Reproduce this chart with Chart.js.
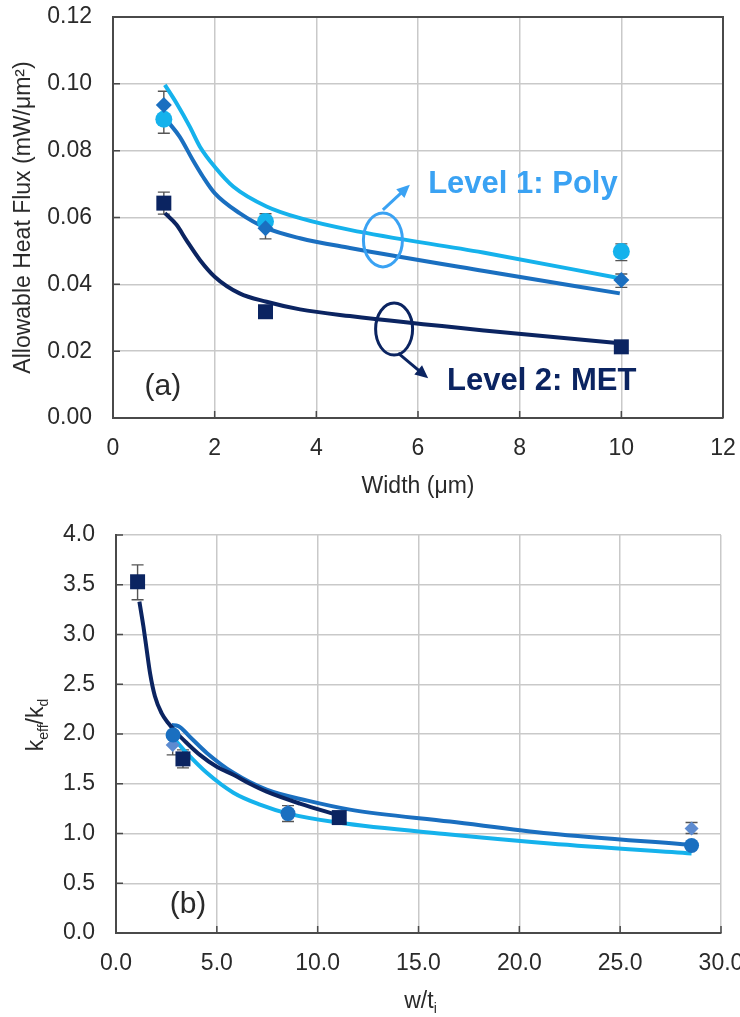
<!DOCTYPE html>
<html>
<head>
<meta charset="utf-8">
<script src="https://cdn.jsdelivr.net/npm/chart.js@4.4.1/dist/chart.umd.min.js"></script>
<style>
  html, body { margin: 0; padding: 0; background: #fff; }
  body { width: 740px; height: 1017px; overflow: hidden; position: relative; }
  #boxA { position: absolute; left: 0; top: 0; width: 740px; height: 505px; }
  #boxB { position: absolute; left: 0; top: 505px; width: 760px; height: 512px; }
</style>
</head>
<body>
<div id="boxA"><canvas id="chartA" width="740" height="505"></canvas></div>
<div id="boxB"><canvas id="chartB" width="760" height="512"></canvas></div>
<script>
// ---- (a) allowable heat flux vs line width ----
const widthUm = [1, 3, 10];
const polyCircle = [0.0894, 0.0588, 0.0498];
const polyDiamond = [0.0937, 0.0568, 0.0413];
const metSquare = [0.0643, 0.0318, 0.0213];

// smooth fit curves
const polyFitAx = [1.02, 1.25, 1.51, 1.71, 2.0, 2.37, 3.02, 3.68, 4.66, 7.28, 9.97];
const polyFitAy = [0.0997, 0.0942, 0.0872, 0.0812, 0.0752, 0.0692, 0.0633, 0.0598, 0.0563, 0.0495, 0.0418];
const polyFitBx = [1.08, 1.31, 1.57, 1.77, 2.0, 2.49, 3.02, 3.68, 4.66, 7.3, 9.97];
const polyFitBy = [0.0887, 0.0842, 0.0772, 0.0722, 0.0673, 0.0613, 0.0568, 0.0538, 0.0509, 0.0440, 0.0373];
const metFitX = [1.02, 1.25, 1.44, 1.71, 2.0, 2.49, 3.02, 3.68, 4.66, 7.3, 9.97];
const metFitY = [0.0613, 0.0578, 0.0533, 0.0473, 0.0423, 0.0373, 0.0348, 0.0325, 0.0305, 0.0262, 0.0224];

// error bars
const errAx = [1, 1, 3, 10, 10];
const errAlo = [0.0852, 0.0610, 0.0536, 0.0471, 0.0391];
const errAhi = [0.0978, 0.0676, 0.0611, 0.0521, 0.0431];

// ---- (b) k_eff/k_d vs w/t_i ----
const sqX = [1.07, 3.32, 11.07];
const sqY = [3.53, 1.75, 1.16];
const circX = [2.83, 8.53, 28.54];
const circY = [1.99, 1.20, 0.88];
const diaX = [2.81, 8.53, 28.54];
const diaY = [1.89, 1.22, 1.05];

const navyFitX = [1.16, 1.36, 1.52, 1.69, 1.93, 2.26, 2.59, 3.01, 3.51, 4.16, 5.0, 5.82, 6.64, 7.47, 9.12, 11.07];
const navyFitY = [3.33, 3.08, 2.85, 2.61, 2.38, 2.21, 2.11, 2.01, 1.91, 1.79, 1.67, 1.59, 1.50, 1.42, 1.30, 1.18];
const blueFitX = [2.76, 3.09, 3.67, 4.5, 5.82, 7.47, 9.5, 11.6, 16.56, 21.5, 28.54];
const blueFitY = [2.09, 2.08, 1.97, 1.81, 1.61, 1.44, 1.33, 1.24, 1.12, 1.00, 0.885];
const cyanFitX = [2.93, 3.5, 4.5, 5.82, 7.14, 8.54, 11.0, 16.56, 21.5, 28.54];
const cyanFitY = [1.94, 1.81, 1.61, 1.41, 1.29, 1.20, 1.11, 0.99, 0.90, 0.80];

const errBx = [1.07, 2.81, 3.32, 8.53, 28.54];
const errBlo = [3.35, 1.79, 1.66, 1.12, 1.00];
const errBhi = [3.70, 1.99, 1.84, 1.28, 1.11];

const FONT = "'Liberation Sans', Arial, Helvetica, sans-serif";
const CYAN = '#15b2ec';
const BLUE = '#1a6fc0';
const NAVY = '#0b2461';
const STEEL = '#5d8bd0';
const GRID = '#c9c9c9';
const AXIS = '#4a4a4a';
const TEXT = '#2a2a2a';

const pts = (xs, ys) => xs.map((x, i) => ({x: x, y: ys[i]}));

function markers(label, xs, ys, style, color, r) {
  return { label: label, data: pts(xs, ys), showLine: false, pointStyle: style,
    pointRadius: r, pointBackgroundColor: color, pointBorderColor: color, pointBorderWidth: 0 };
}
function fit(label, xs, ys, color) {
  return { label: label, data: pts(xs, ys), showLine: true, pointRadius: 0,
    borderColor: color, borderWidth: 4, cubicInterpolationMode: 'monotone', fill: false };
}

const errorBars = {
  id: 'errorBars',
  beforeDatasetsDraw(chart, args, opts) {
    const {ctx, scales: {x, y}} = chart;
    ctx.save();
    ctx.strokeStyle = '#555';
    ctx.lineWidth = 1.4;
    ctx.beginPath();
    opts.x.forEach((xv, i) => {
      const px = x.getPixelForValue(xv);
      const lo = y.getPixelForValue(opts.lo[i]);
      const hi = y.getPixelForValue(opts.hi[i]);
      ctx.moveTo(px, lo); ctx.lineTo(px, hi);
      ctx.moveTo(px - 6, lo); ctx.lineTo(px + 6, lo);
      ctx.moveTo(px - 6, hi); ctx.lineTo(px + 6, hi);
    });
    ctx.stroke();
    ctx.restore();
  }
};

// inner tick marks, plus a closed box when asked
const frame = {
  id: 'frame',
  beforeDatasetsDraw(chart, args, opts) {
    const {ctx, chartArea: a, scales: {x, y}} = chart;
    ctx.save();
    ctx.strokeStyle = AXIS;
    ctx.lineWidth = 1.5;
    ctx.beginPath();
    x.ticks.forEach(t => {
      const px = x.getPixelForValue(t.value);
      ctx.moveTo(px, a.bottom); ctx.lineTo(px, a.bottom - 7);
    });
    y.ticks.forEach(t => {
      const py = y.getPixelForValue(t.value);
      ctx.moveTo(a.left, py); ctx.lineTo(a.left + 7, py);
    });
    ctx.stroke();
    if (opts.box) {
      ctx.lineWidth = 2;
      ctx.beginPath();
      ctx.moveTo(a.left, a.top); ctx.lineTo(a.right, a.top); ctx.lineTo(a.right, a.bottom);
      ctx.stroke();
    }
    ctx.restore();
  }
};

function arrow(ctx, x0, y0, x1, y1, color) {
  const ang = Math.atan2(y1 - y0, x1 - x0);
  const len = 13, half = 6;
  ctx.strokeStyle = color;
  ctx.fillStyle = color;
  ctx.lineWidth = 3;
  ctx.beginPath();
  ctx.moveTo(x0, y0);
  ctx.lineTo(x1 - Math.cos(ang) * len * 0.8, y1 - Math.sin(ang) * len * 0.8);
  ctx.stroke();
  ctx.beginPath();
  ctx.moveTo(x1, y1);
  ctx.lineTo(x1 - Math.cos(ang) * len - Math.sin(ang) * half, y1 - Math.sin(ang) * len + Math.cos(ang) * half);
  ctx.lineTo(x1 - Math.cos(ang) * len + Math.sin(ang) * half, y1 - Math.sin(ang) * len - Math.cos(ang) * half);
  ctx.closePath();
  ctx.fill();
}

const calloutsA = {
  id: 'calloutsA',
  afterDatasetsDraw(chart) {
    const {ctx, scales: {x, y}} = chart;
    const X = v => x.getPixelForValue(v), Y = v => y.getPixelForValue(v);
    ctx.save();
    // Level 1 group
    ctx.strokeStyle = '#3aa2f3';
    ctx.lineWidth = 3;
    ctx.beginPath();
    ctx.ellipse(X(5.31), Y(0.0533), 19.5, 27, 0, 0, Math.PI * 2);
    ctx.stroke();
    arrow(ctx, X(5.31), Y(0.0623), X(5.84), Y(0.0698), '#3aa2f3');
    ctx.font = 'bold 31px ' + FONT;
    ctx.textAlign = 'left';
    ctx.textBaseline = 'alphabetic';
    ctx.fillStyle = '#3aa2f3';
    ctx.fillText('Level 1: Poly', X(6.2), Y(0.0674));
    // Level 2 group
    ctx.strokeStyle = NAVY;
    ctx.lineWidth = 3;
    ctx.beginPath();
    ctx.ellipse(X(5.53), Y(0.0266), 18.5, 26, 0, 0, Math.PI * 2);
    ctx.stroke();
    arrow(ctx, X(5.61), Y(0.0194), X(6.2), Y(0.0119), NAVY);
    ctx.fillStyle = NAVY;
    ctx.fillText('Level 2: MET', X(6.57), Y(0.0084));
    // panel tag
    ctx.font = '30px ' + FONT;
    ctx.fillStyle = TEXT;
    ctx.textAlign = 'center';
    ctx.textBaseline = 'middle';
    ctx.fillText('(a)', X(0.98), Y(0.0093));
    ctx.restore();
  }
};

// text with subscripts: parts = [[text, isSub], ...], centred on the origin, origin on the baseline
function richText(ctx, parts, size) {
  const big = size + 'px ' + FONT, small = Math.round(size * 0.62) + 'px ' + FONT;
  let w = 0;
  parts.forEach(p => { ctx.font = p[1] ? small : big; w += ctx.measureText(p[0]).width; });
  let cx = -w / 2;
  ctx.textAlign = 'left';
  ctx.textBaseline = 'alphabetic';
  parts.forEach(p => {
    ctx.font = p[1] ? small : big;
    ctx.fillText(p[0], cx, p[1] ? size * 0.22 : 0);
    cx += ctx.measureText(p[0]).width;
  });
}

const labelsB = {
  id: 'labelsB',
  afterDraw(chart) {
    const {ctx, chartArea: a, scales: {x, y}} = chart;
    ctx.save();
    ctx.fillStyle = TEXT;
    // y title
    ctx.save();
    ctx.translate(43, (a.top + a.bottom) / 2 - 9);
    ctx.rotate(-Math.PI / 2);
    richText(ctx, [['k', false], ['eff', true], ['/k', false], ['d', true]], 23);
    ctx.restore();
    // x title
    ctx.save();
    ctx.translate((a.left + a.right) / 2 + 2, a.bottom + 75);
    richText(ctx, [['w/t', false], ['i', true]], 23);
    ctx.restore();
    // panel tag
    ctx.font = '30px ' + FONT;
    ctx.textAlign = 'center';
    ctx.textBaseline = 'middle';
    ctx.fillText('(b)', x.getPixelForValue(3.57), y.getPixelForValue(0.28));
    ctx.restore();
  }
};

// label offset comes from an invisible tick mark so it does not widen the layout padding
function axis(min, max, step, digits, gap, extra) {
  return Object.assign({
    type: 'linear', min: min, max: max,
    ticks: { stepSize: step, color: TEXT, padding: 3, font: { family: FONT, size: 23 },
      callback: v => Number(v).toFixed(digits) },
    grid: { color: GRID, lineWidth: 1.5, drawTicks: true, tickLength: gap, tickColor: 'rgba(0,0,0,0)' },
    border: { color: AXIS, width: 2 }
  }, extra);
}

Chart.defaults.font.family = FONT;

new Chart(document.getElementById('chartA'), {
  type: 'scatter',
  data: {
    datasets: [
      markers('MET', widthUm, metSquare, 'rect', NAVY, 10.6),
      markers('Poly B', widthUm, polyDiamond, 'rectRot', BLUE, 8),
      markers('Poly A', widthUm, polyCircle, 'circle', CYAN, 8.5),
      fit('MET fit', metFitX, metFitY, NAVY),
      fit('Poly B fit', polyFitBx, polyFitBy, BLUE),
      fit('Poly A fit', polyFitAx, polyFitAy, CYAN)
    ]
  },
  options: {
    responsive: false,
    devicePixelRatio: 1,
    animation: false,
    layout: { padding: { left: 0, right: 17, top: 17, bottom: 0 } },
    plugins: {
      legend: { display: false },
      tooltip: { enabled: false },
      errorBars: { x: errAx, lo: errAlo, hi: errAhi },
      frame: { box: true }
    },
    scales: {
      x: axis(0, 12, 2, 0, 14, {
        title: { display: true, text: 'Width (μm)', color: TEXT, font: { size: 23 }, padding: { bottom: 5 } },
        afterFit: s => { s.height = 87; }
      }),
      y: axis(0, 0.12, 0.02, 2, 18, {
        title: { display: true, text: 'Allowable Heat Flux (mW/μm²)', color: TEXT, font: { size: 23 }, padding: { top: 10 } },
        afterFit: s => { s.width = 113; }
      })
    }
  },
  plugins: [errorBars, frame, calloutsA]
});

new Chart(document.getElementById('chartB'), {
  type: 'scatter',
  data: {
    datasets: [
      markers('squares', sqX, sqY, 'rect', NAVY, 10.6),
      markers('circles', circX, circY, 'circle', BLUE, 7.5),
      markers('diamonds', diaX, diaY, 'rectRot', STEEL, 7),
      fit('navy fit', navyFitX, navyFitY, NAVY),
      fit('blue fit', blueFitX, blueFitY, BLUE),
      fit('cyan fit', cyanFitX, cyanFitY, CYAN)
    ]
  },
  options: {
    responsive: false,
    devicePixelRatio: 1,
    animation: false,
    layout: { padding: { left: 0, right: 39, top: 30, bottom: 0 } },
    plugins: {
      legend: { display: false },
      tooltip: { enabled: false },
      errorBars: { x: errBx, lo: errBlo, hi: errBhi },
      frame: { box: false }
    },
    scales: {
      x: axis(0, 30, 5, 1, 14, { afterFit: s => { s.height = 84; } }),
      y: axis(0, 4, 0.5, 1, 18, { afterFit: s => { s.width = 116; } })
    }
  },
  plugins: [errorBars, frame, labelsB]
});
</script>
</body>
</html>
